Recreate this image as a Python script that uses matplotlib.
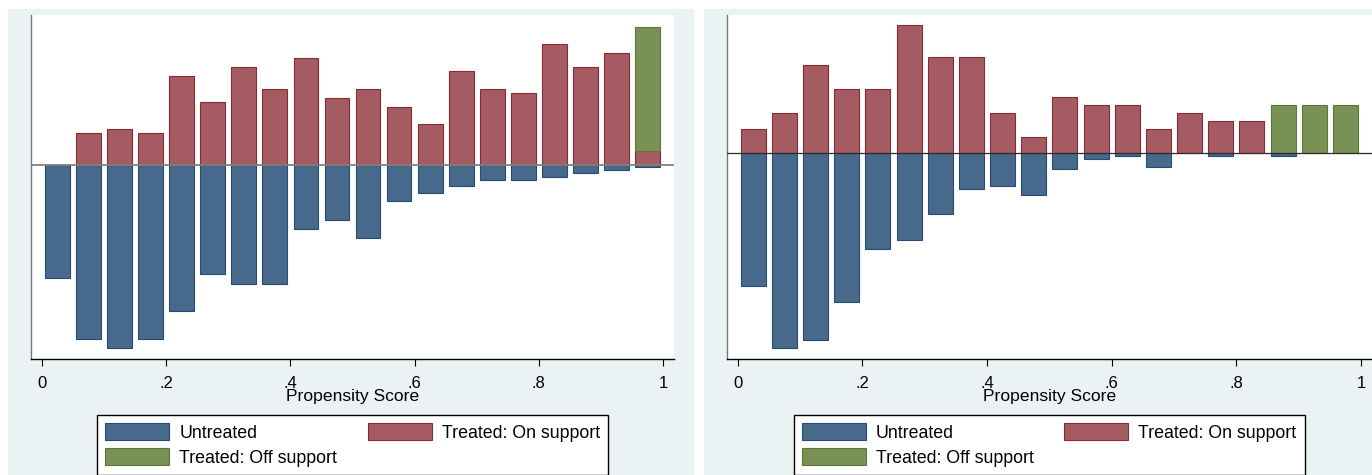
import numpy as np
import matplotlib.pyplot as plt
from matplotlib.patches import Patch, Rectangle

plt.rcParams['font.family'] = ['Liberation Sans', 'DejaVu Sans']

# data: 20 propensity score bins, heights in (treated) count units
bin_mid = [0.025, 0.075, 0.125, 0.175, 0.225, 0.275, 0.325, 0.375, 0.425, 0.475,
           0.525, 0.575, 0.625, 0.675, 0.725, 0.775, 0.825, 0.875, 0.925, 0.975]
tick_vals = [0, 0.2, 0.4, 0.6, 0.8, 1]
tick_labels = ['0', '.2', '.4', '.6', '.8', '1']

# left graph
untreated_a = [25.4, 39.1, 41.3, 39.1, 33.0, 24.7, 26.9, 26.9, 14.4, 12.4,
               16.4, 8.2, 6.3, 4.9, 3.4, 3.4, 2.7, 2.0, 1.3, 0.6]
on_support_a = [0, 7, 8, 7, 20, 14, 22, 17, 24, 15,
                17, 13, 9, 21, 17, 16, 27, 22, 25, 3]
off_support_a = [0, 0, 0, 0, 0, 0, 0, 0, 0, 0,
                 0, 0, 0, 0, 0, 0, 0, 0, 0, 28]

# right graph
untreated_b = [16.7, 24.5, 23.5, 18.8, 12.1, 11.0, 7.7, 4.6, 4.2, 5.3,
               2.1, 0.75, 0.45, 1.8, 0, 0.45, 0, 0.45, 0, 0]
on_support_b = [3, 5, 11, 8, 8, 16, 12, 12, 5, 2,
                7, 6, 6, 3, 5, 4, 4, 0, 0, 0]
off_support_b = [0, 0, 0, 0, 0, 0, 0, 0, 0, 0,
                 0, 0, 0, 0, 0, 0, 0, 6, 6, 6]

BG = '#eaf2f3'
BLUE, BLUE_E = '#476a8c', '#264b72'
RED, RED_E = '#a45b61', '#8b2a34'
GREEN, GREEN_E = '#7a9155', '#5a7836'

W, H = 1372, 475
fig = plt.figure(figsize=(W / 100, H / 100), dpi=100)


def fx(px):
    return px / W


def fy(py):
    return 1 - py / H


# grey-blue graph regions behind the axes
for x0, x1 in [(8, 692.7), (704, 1372)]:
    fig.patches.append(Rectangle((fx(x0), 0), fx(x1 - x0), 1 - 9 / H,
                                 transform=fig.transFigure, color=BG, zorder=-5))


def draw(ax, untreated, on_sup, off_sup, ylim, zcolor, zlw, leg_x):
    x = np.array(bin_mid)
    u = np.array(untreated)
    on = np.array(on_sup)
    off = np.array(off_sup)
    m = u > 0
    ax.bar(x[m], -u[m], width=0.04, color=BLUE, edgecolor=BLUE_E, lw=0.8, zorder=2)
    m = on > 0
    ax.bar(x[m], on[m], width=0.04, color=RED, edgecolor=RED_E, lw=0.8, zorder=2)
    m = off > 0
    ax.bar(x[m], off[m], bottom=on[m], width=0.04, color=GREEN, edgecolor=GREEN_E,
           lw=0.8, zorder=2)
    ax.axhline(0, color=zcolor, lw=zlw, zorder=3)

    ax.set_facecolor('white')
    ax.set_xlim(-0.0177, 1.0177)
    ax.set_ylim(*ylim)
    ax.set_yticks([])
    ax.set_xticks(tick_vals)
    ax.set_xticklabels(tick_labels)
    ax.tick_params(axis='x', direction='out', length=4.8, width=0.8, pad=7.3,
                   labelsize=12, colors='black')
    ax.set_xlabel('Propensity Score', fontsize=12.6, labelpad=-1)
    for s in ['top', 'right']:
        ax.spines[s].set_visible(False)
    ax.spines['left'].set_color('#777777')
    ax.spines['left'].set_linewidth(1.0)
    ax.spines['bottom'].set_color('black')
    ax.spines['bottom'].set_linewidth(1.0)

    handles = [Patch(facecolor=BLUE, edgecolor=BLUE_E, lw=0.8),
               Patch(facecolor=GREEN, edgecolor=GREEN_E, lw=0.8),
               Patch(facecolor=RED, edgecolor=RED_E, lw=0.8)]
    labels = ['Untreated', 'Treated: Off support', 'Treated: On support']
    leg = ax.legend(handles, labels, loc='upper left', ncol=2, mode='expand',
                    bbox_to_anchor=(fx(leg_x), fy(415), fx(511), 0),
                    bbox_transform=fig.transFigure, borderaxespad=0,
                    fontsize=12.8, handlelength=3.6, handleheight=1.1,
                    handletextpad=0.57, labelspacing=0.38, borderpad=0.45,
                    fancybox=False, frameon=True, columnspacing=1.0)
    fr = leg.get_frame()
    fr.set_edgecolor('black')
    fr.set_linewidth(1.0)
    fr.set_facecolor('white')
    fr.set_alpha(1)


ax1 = fig.add_axes([fx(31), fy(359), fx(674 - 31), (359 - 15) / H])
draw(ax1, untreated_a, on_support_a, off_support_a, (-43.7, 33.6), '#808080', 1.3, 97.3)

ax2 = fig.add_axes([fx(726.7), fy(359), fx(1372 - 726.7), (359 - 14.7) / H])
draw(ax2, untreated_b, on_support_b, off_support_b, (-25.9, 17.3), '#2b2b2b', 0.9, 793.5)

fig.savefig('out.png', dpi=100, facecolor='white')
